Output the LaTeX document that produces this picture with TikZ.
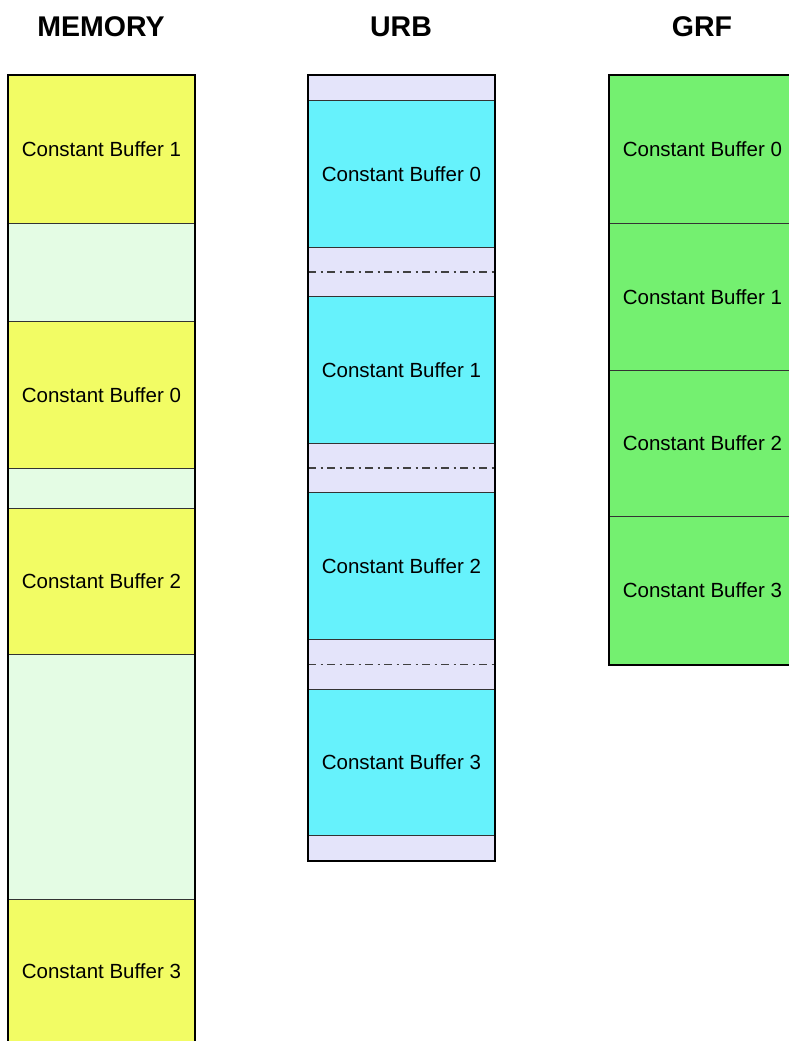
\documentclass[tikz,border=0pt]{standalone}
\usepackage{fontspec}
\setmainfont{Liberation Sans}
\usepackage{tikz}
\definecolor{memyel}{RGB}{242,252,100}
\definecolor{memfree}{RGB}{228,252,228}
\definecolor{urbcyan}{RGB}{102,242,252}
\definecolor{urbpad}{RGB}{228,228,250}
\definecolor{grfgreen}{RGB}{116,240,112}
\begin{document}
\begin{tikzpicture}[x=1pt,y=-1pt,
cell/.style={draw=black!80,line width=0.8pt,minimum width=186pt,inner sep=0pt,anchor=north west,
font=\fontsize{20.5}{24}\selectfont},
title/.style={font=\bfseries\fontsize{28.5}{32}\selectfont},
frame/.style={line width=2.6pt,line join=miter},
dd/.style={black!75,line width=1.3pt,dash pattern=on 8pt off 4.5pt on 2pt off 4.5pt}]
\useasboundingbox(0,0)rectangle(789,1041);
\clip(0,0)rectangle(789,1041);
\node[title](TM)at(101,27){MEMORY};
\node[title](TU)at(401,27){URB};
\node[title](TG)at(702,27){GRF};
\node[cell,fill=memyel,minimum height=148pt](M1)at(8,75){Constant Buffer 1};
\node[cell,fill=memfree,minimum height=98pt](M2)at(8,223){};
\node[cell,fill=memyel,minimum height=147pt](M3)at(8,321){Constant Buffer 0};
\node[cell,fill=memfree,minimum height=40pt](M4)at(8,468){};
\node[cell,fill=memyel,minimum height=146pt](M5)at(8,508){Constant Buffer 2};
\node[cell,fill=memfree,minimum height=245pt](M6)at(8,654){};
\node[cell,fill=memyel,minimum height=144pt](M7)at(8,899){Constant Buffer 3};
\node[cell,fill=urbpad,minimum height=25pt](U0)at(308,75){};
\node[cell,fill=urbcyan,minimum height=147pt](U1)at(308,100){Constant Buffer 0};
\node[cell,fill=urbpad,minimum height=49pt](U2)at(308,247){};
\node[cell,fill=urbcyan,minimum height=147pt](U3)at(308,296){Constant Buffer 1};
\node[cell,fill=urbpad,minimum height=49pt](U4)at(308,443){};
\node[cell,fill=urbcyan,minimum height=147pt](U5)at(308,492){Constant Buffer 2};
\node[cell,fill=urbpad,minimum height=50pt](U6)at(308,639){};
\node[cell,fill=urbcyan,minimum height=146pt](U7)at(308,689){Constant Buffer 3};
\node[cell,fill=urbpad,minimum height=25pt](U8)at(308,835){};
\node[cell,fill=grfgreen,minimum height=148pt](G0)at(609,75){Constant Buffer 0};
\node[cell,fill=grfgreen,minimum height=147pt](G1)at(609,223){Constant Buffer 1};
\node[cell,fill=grfgreen,minimum height=146pt](G2)at(609,370){Constant Buffer 2};
\node[cell,fill=grfgreen,minimum height=148pt](G3)at(609,516){Constant Buffer 3};
\draw[dd](U2.west)--(U2.east)(U4.west)--(U4.east)(U6.west)--(U6.east);
\draw[frame](M7.south west)--(M1.north west)--(M1.north east)--(M7.south east);
\draw[frame](U0.north west)rectangle(U8.south east);
\draw[frame](G0.north west)rectangle(G3.south east);
\end{tikzpicture}
\end{document}
